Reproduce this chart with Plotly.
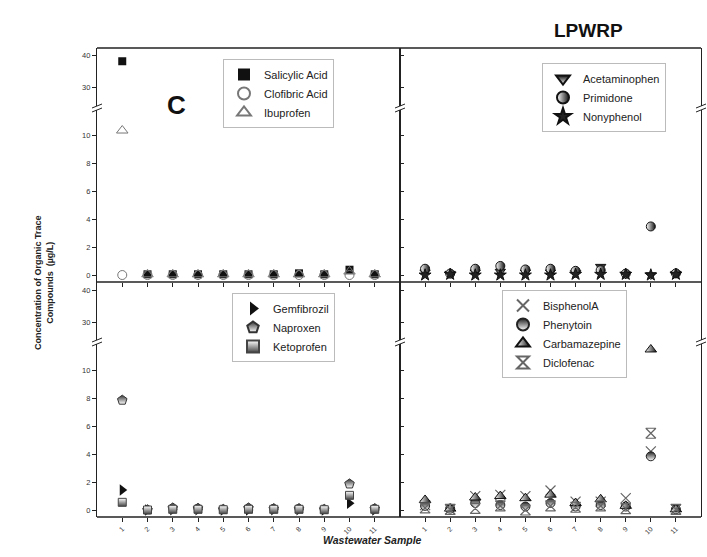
import plotly.graph_objects as go

samples = list(range(1, 12))
tick_labels = [str(s) for s in samples]

# Panel 1
salicylic = [38.3, 0.05, 0.05, 0.05, 0.05, 0.05, 0.05, 0.12, 0.05, 0.38, 0.05]
clofibric = [0.0, 0.0, 0.0, 0.0, 0.0, 0.0, 0.0, 0.0, 0.0, 0.0, 0.0]
ibuprofen = [10.35, 0.05, 0.05, 0.05, 0.05, 0.05, 0.05, 0.05, 0.05, 0.25, 0.05]
# Panel 2
acetaminophen = [0.2, 0.1, 0.2, 0.25, 0.2, 0.2, 0.15, 0.6, 0.05, 0.0, 0.1]
primidone = [0.45, 0.1, 0.45, 0.65, 0.4, 0.45, 0.3, 0.35, 0.1, 3.48, 0.12]
nonyphenol = [0.0, 0.05, 0.0, 0.0, 0.0, 0.0, 0.05, 0.05, 0.05, 0.0, 0.05]
# Panel 3
gemfibrozil = [1.44, 0.0, 0.02, 0.02, 0.0, 0.0, 0.02, 0.02, 0.0, 0.48, 0.0]
naproxen = [7.87, 0.02, 0.15, 0.12, 0.05, 0.15, 0.1, 0.1, 0.05, 1.87, 0.1]
ketoprofen = [0.55, 0.0, 0.05, 0.05, 0.02, 0.05, 0.05, 0.05, 0.02, 1.05, 0.05]
# Panel 4
bisphenolA = [0.35, 0.05, 1.0, 1.08, 1.0, 1.4, 0.6, 0.6, 0.85, 4.2, 0.05]
phenytoin = [0.3, 0.1, 0.5, 0.36, 0.25, 0.5, 0.25, 0.36, 0.25, 3.85, 0.05]
carbamazepine = [0.72, 0.1, 0.9, 1.0, 0.85, 1.1, 0.5, 0.77, 0.3, 11.5, 0.05]
diclofenac = [0.15, 0.05, 0.12, 0.3, 0.0, 0.3, 0.2, 0.3, 0.1, 5.5, 0.05]

W, H = 707, 557
ML, MR, MT, MB = 97, 6, 48, 40
PW, PH = W - ML - MR, H - MT - MB
FONT = "Arial, Liberation Sans, sans-serif"

def px(x):
    return (x - ML) / PW

def py(y):
    return (H - MB - y) / PH

xsplit = px(400)
ysplit = py(282)
low_h = 174.5 / PH

panels = {
    1: dict(xd=[0, xsplit], yb=ysplit, yt=1.0, left=True, labels=False),
    2: dict(xd=[xsplit, 1], yb=ysplit, yt=1.0, left=False, labels=False),
    3: dict(xd=[0, xsplit], yb=0.0, yt=ysplit, left=True, labels=True),
    4: dict(xd=[xsplit, 1], yb=0.0, yt=ysplit, left=False, labels=True),
}

fig = go.Figure()
layout = dict(
    width=W, height=H, margin=dict(l=ML, r=MR, t=MT, b=MB, autoexpand=False),
    paper_bgcolor="white", plot_bgcolor="white",
    font=dict(family=FONT, color="#222"), showlegend=True,
)

for p, d in panels.items():
    xa = f"xaxis{'' if p == 1 else p}"
    ylo = 2 * p - 1
    yhi = 2 * p
    yb = d["yb"]
    brk = yb + low_h
    layout[xa] = dict(
        domain=d["xd"], range=[0, 12], anchor=f"y{'' if ylo == 1 else ylo}",
        tickvals=samples, ticktext=tick_labels, ticks="outside", ticklen=4,
        tickwidth=1, tickcolor="#222", showticklabels=d["labels"], tickangle=-45,
        tickfont=dict(size=7, color="#333"), showgrid=False, zeroline=False,
        showline=False,
    )
    common = dict(
        showline=True, linecolor="#222", linewidth=1.3, mirror=True,
        showgrid=False, zeroline=False, tickwidth=1, tickcolor="#222",
        ticklen=4, ticks="outside" if d["left"] else "inside",
        showticklabels=d["left"], tickfont=dict(size=7.5, color="#333"),
        anchor=f"x{'' if p == 1 else p}",
    )
    layout[f"yaxis{'' if ylo == 1 else ylo}"] = dict(
        domain=[yb, brk], range=[-0.5, 12], tickvals=[0, 2, 4, 6, 8, 10], **common)
    layout[f"yaxis{yhi}"] = dict(
        domain=[brk, d["yt"]], range=[23.6, 42.5], tickvals=[30, 40], **common)

series = {
    1: [("Salicylic Acid", salicylic, dict(symbol="square", size=8, color="#111")),
        ("Clofibric Acid", clofibric, dict(symbol="circle-open", size=9, color="#777", line=dict(width=1))),
        ("Ibuprofen", ibuprofen, dict(symbol="triangle-up-open", size=10, color="#777", line=dict(width=1)))],
    2: [("Acetaminophen", acetaminophen, dict(symbol="triangle-down", size=9, color="#111",
                                              gradient=dict(type="vertical", color="white"),
                                              line=dict(color="#111", width=1))),
        ("Primidone", primidone, dict(symbol="circle", size=9, color="white",
                                      gradient=dict(type="horizontal", color="#111"),
                                      line=dict(color="#111", width=1))),
        ("Nonyphenol", nonyphenol, dict(symbol="star", size=9, color="#222",
                                        line=dict(color="#111", width=1)))],
    3: [("Gemfibrozil", gemfibrozil, dict(symbol="triangle-right", size=10, color="#111")),
        ("Naproxen", naproxen, dict(symbol="pentagon", size=10, color="#333",
                                    gradient=dict(type="vertical", color="white"),
                                    line=dict(color="#333", width=1))),
        ("Ketoprofen", ketoprofen, dict(symbol="square", size=8, color="white",
                                        gradient=dict(type="vertical", color="#444"),
                                        line=dict(color="#444", width=1)))],
    4: [("BisphenolA", bisphenolA, dict(symbol="x-thin-open", size=10, color="#666",
                                        line=dict(color="#666", width=1.2))),
        ("Phenytoin", phenytoin, dict(symbol="circle", size=9, color="#222",
                                      gradient=dict(type="vertical", color="white"),
                                      line=dict(color="#222", width=1))),
        ("Carbamazepine", carbamazepine, dict(symbol="triangle-up", size=10, color="white",
                                              gradient=dict(type="horizontal", color="#111"),
                                              line=dict(color="#111", width=1))),
        ("Diclofenac", diclofenac, dict(symbol="hourglass-open", size=10, color="#666",
                                        line=dict(color="#666", width=1.2)))],
}

legend_pos = {1: (px(223), py(59)), 2: (px(542), py(63)), 3: (px(232), py(293)), 4: (px(502), py(290))}

for p, lst in series.items():
    xname = "x" if p == 1 else f"x{p}"
    ylo = "y" if p == 1 else f"y{2 * p - 1}"
    yhi = f"y{2 * p}"
    lg = "legend" if p == 1 else f"legend{p}"
    for name, vals, mk in lst:
        for yname, show in ((ylo, True), (yhi, False)):
            fig.add_trace(go.Scatter(
                x=samples, y=vals, mode="markers", name=name, marker=mk,
                xaxis=xname, yaxis=yname, showlegend=show, legend=lg,
                legendgroup=name, cliponaxis=True,
            ))
    lx, ly = legend_pos[p]
    layout[lg] = dict(x=lx, y=ly, xanchor="left", yanchor="top", bgcolor="white",
                      bordercolor="#bbb", borderwidth=1, font=dict(size=11, family=FONT, color="#222"),
                      tracegroupgap=0, itemsizing="constant", itemwidth=30)

shapes = []
line = dict(color="#222", width=1.3)
for yy in (1.0, ysplit, 0.0):
    shapes.append(dict(type="line", xref="paper", yref="paper", x0=0, x1=1, y0=yy, y1=yy, line=line))
for ypix in (108, 342):
    for xpix in (97, 400, 701):
        shapes.append(dict(type="rect", xref="paper", yref="paper",
                           x0=px(xpix - 5), x1=px(xpix + 5), y0=py(ypix + 2), y1=py(ypix - 2),
                           fillcolor="white", line=dict(width=0), layer="above"))
        for off in (-2, 2):
            shapes.append(dict(type="line", xref="paper", yref="paper",
                               x0=px(xpix - 5), x1=px(xpix + 5),
                               y0=py(ypix + off + 2), y1=py(ypix + off - 2),
                               line=dict(color="#222", width=1)))
layout["shapes"] = shapes

layout["annotations"] = [
    dict(text="<b>C</b>", x=px(165), y=py(88), xref="paper", yref="paper", showarrow=False,
         font=dict(size=26, color="#111", family=FONT)),
    dict(text="<b>LPWRP</b>", x=px(625), y=py(18), xref="paper", yref="paper", showarrow=False,
         font=dict(size=19, color="#111", family=FONT)),
    dict(text="<b><i>Wastewater Sample</i></b>", x=px(372), y=py(548), xref="paper", yref="paper",
         showarrow=False, font=dict(size=10.5, color="#222", family=FONT)),
    dict(text="<b>Concentration of Organic Trace<br>Compounds  (\u00b5g/L)</b>", x=px(31), y=py(283),
         xref="paper", yref="paper", showarrow=False, textangle=-90,
         font=dict(size=9, color="#222", family=FONT)),
]

fig.update_layout(**layout)
fig.write_html("out.html", config={"displayModeBar": False})

with open("out.html", "r", encoding="utf-8") as f:
    html = f.read()
html = html.replace("<head>", "<head><style>html,body{margin:0;padding:0;overflow:hidden}</style>", 1)
with open("out.html", "w", encoding="utf-8") as f:
    f.write(html)
